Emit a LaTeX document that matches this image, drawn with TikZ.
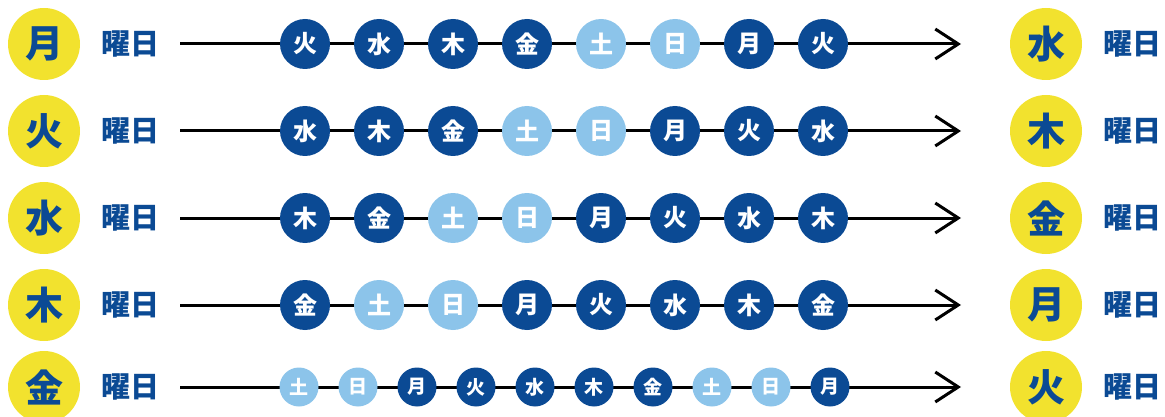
\documentclass[tikz,border=0pt]{standalone}
\usepackage{fontspec}
\newfontfamily\jp{Noto Sans CJK JP}
\usetikzlibrary{arrows.meta}
\definecolor{dayyellow}{HTML}{F2E22E}
\definecolor{dayblue}{HTML}{0B4A94}
\definecolor{daylight}{HTML}{8CC4EA}
\tikzset{
  big/.style={circle,fill=dayyellow,minimum size=72pt,inner sep=0pt,text=dayblue,font=\jp\bfseries\fontsize{38}{38}\selectfont},
  label/.style={inner sep=0pt,text=dayblue,font=\jp\bfseries\fontsize{29}{29}\selectfont},
  dk/.style={circle,fill=dayblue,minimum size=50pt,inner sep=0pt,text=white,font=\jp\bfseries\fontsize{24}{24}\selectfont},
  lt/.style={dk,fill=daylight},
  dks/.style={circle,fill=dayblue,minimum size=39pt,inner sep=0pt,text=white,font=\jp\bfseries\fontsize{19}{19}\selectfont},
  lts/.style={dks,fill=daylight},
  arr/.style={line width=3pt,-{Straight Barb[length=23pt,width=30pt,line width=3pt]}}
}
\begin{document}
\begin{tikzpicture}[x=1pt,y=-1pt]
\useasboundingbox (0,0) rectangle (1165,417);
% rows 1-4
\foreach \r/\y/\a/\b/\c/\d/\e/\f/\g/\h/\sa/\sb/\sc/\sd/\se/\sf/\sg/\sh/\L/\R in {
 1/44/火/水/木/金/土/日/月/火/dk/dk/dk/dk/lt/lt/dk/dk/月/水,
 2/131/水/木/金/土/日/月/火/水/dk/dk/dk/lt/lt/dk/dk/dk/火/木,
 3/218/木/金/土/日/月/火/水/木/dk/dk/lt/lt/dk/dk/dk/dk/水/金,
 4/305/金/土/日/月/火/水/木/金/dk/lt/lt/dk/dk/dk/dk/dk/木/月}{
  \node[big] (L\r) at (44,\y) {\L};
  \node[label,anchor=west] (T\r) at (101,\y) {曜日};
  \node[big] (R\r) at (1046,\y) {\R};
  \node[label,anchor=west] (U\r) at (1103,\y) {曜日};
  \coordinate (s\r) at (180,\y);
  \coordinate (e\r) at (961,\y);
  \draw[arr] (s\r) -- (e\r);
  \node[\sa] (c\r-1) at (305,\y) {\a};
  \node[\sb] (c\r-2) at (379,\y) {\b};
  \node[\sc] (c\r-3) at (453,\y) {\c};
  \node[\sd] (c\r-4) at (527,\y) {\d};
  \node[\se] (c\r-5) at (601,\y) {\e};
  \node[\sf] (c\r-6) at (675,\y) {\f};
  \node[\sg] (c\r-7) at (749,\y) {\g};
  \node[\sh] (c\r-8) at (823,\y) {\h};
}
% row 5
\node[big] (L5) at (44,387) {金};
\node[label,anchor=west] (T5) at (101,387) {曜日};
\node[big] (R5) at (1046,387) {火};
\node[label,anchor=west] (U5) at (1103,387) {曜日};
\coordinate (s5) at (180,387);
\coordinate (e5) at (961,387);
\draw[arr] (s5) -- (e5);
\foreach \i/\t/\s in {0/土/lts,1/日/lts,2/月/dks,3/火/dks,4/水/dks,5/木/dks,6/金/dks,7/土/lts,8/日/lts,9/月/dks}{
  \node[\s] (c5-\i) at ({299+59*\i},387) {\t};
}
\end{tikzpicture}
\end{document}
